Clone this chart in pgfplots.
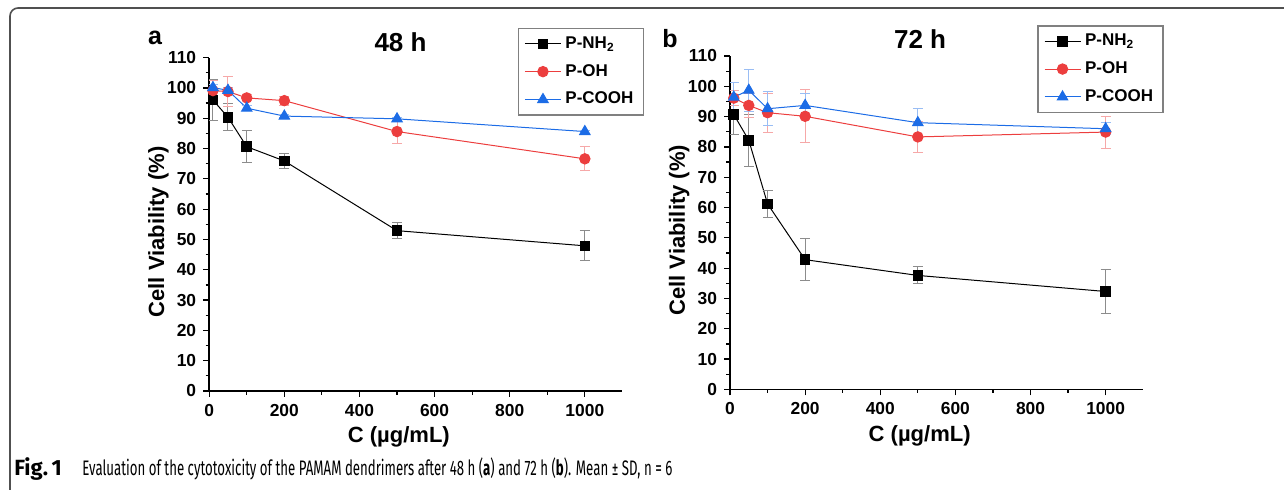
\documentclass[border=0pt]{standalone}
\usepackage{fontspec}
\setmainfont{Liberation Sans}
\newfontfamily\capfont[FakeStretch=0.63]{Fira Sans}
\newfontfamily\figfont{Fira Sans}
\usepackage{pgfplots}
\usepackage{pgfplotstable}
\pgfplotsset{compat=1.18}

\definecolor{cred}{RGB}{236,62,62}
\definecolor{cblue}{RGB}{28,108,230}
\definecolor{framegray}{RGB}{80,80,80}

% 48 h
\pgfplotstableread{
c v e
10 96.0 6.8
50 90.3 4.5
100 80.6 5.3
200 75.9 2.5
500 52.9 2.7
1000 47.9 4.9
}\nhA
\pgfplotstableread{
c v e
10 99.1 3.5
50 98.8 5.0
100 96.7 1.0
200 95.8 1.5
500 85.6 3.8
1000 76.6 4.0
}\ohA
\pgfplotstableread{
c v e
10 100.1 1.0
50 99.2 1.0
100 93.3 0.8
200 90.7 0.5
500 89.8 0.5
1000 85.6 0.5
}\coA
% 72 h
\pgfplotstableread{
c v e
10 90.7 6.5
50 82.2 8.5
100 61.2 4.4
200 42.8 7.0
500 37.6 2.8
1000 32.3 7.3
}\nhB
\pgfplotstableread{
c v e
10 96.1 2.5
50 93.7 4.0
100 91.3 6.4
200 90.1 8.8
500 83.3 5.2
1000 84.9 5.3
}\ohB
\pgfplotstableread{
c v e
10 96.4 4.8
50 98.7 7.0
100 92.6 5.6
200 93.7 4.0
500 88.0 4.6
1000 86.0 2.0
}\coB

\pgfplotsset{
  viab/.style={
    scale only axis, width=206.6pt, height=166.7pt,
    xmin=0, xmax=1100, ymin=0, ymax=110,
    axis x line*=bottom, axis y line*=left,
    axis line style={line width=0.75pt, -},
    xtick={0,200,...,1000}, ytick={0,10,...,110},
    minor x tick num=1, minor y tick num=1,
    tick align=outside, major tick length=3pt, minor tick length=1.8pt,
    every tick/.style={black, line width=0.6pt},
    ticklabel style={font=\bfseries\fontsize{8.7}{10}\selectfont},
    /pgf/number format/assume math mode=true,
    /pgf/number format/1000 sep={},
    xlabel={C (µg/mL)}, ylabel={Cell Viability (\%)},
    label style={font=\bfseries\fontsize{11}{13}\selectfont},
    xlabel style={at={(axis description cs:0.459,-0.138)}, anchor=center},
    ylabel style={at={(axis description cs:-0.123,0.477)}, anchor=center},
    title style={anchor=center, font=\bfseries\fontsize{13}{15}\selectfont},
    legend style={anchor=north west, draw=gray, line width=0.6pt,
      font=\bfseries\fontsize{8.5}{10}\selectfont,
      inner xsep=3pt, inner ysep=2pt, row sep=2.5pt},
    legend cell align=left,
    legend image code/.code={\draw[mark repeat=2,mark phase=2,#1] plot coordinates {(0pt,0pt)(9pt,0pt)(18pt,0pt)};},
  },
  nh/.style={black, line width=0.5pt, mark=square*, mark size=2.4pt,
    error bars/.cd, y dir=both, y explicit,
    error bar style={black!45, line width=0.5pt},
    error mark options={rotate=90, black!45, mark size=2.5pt, line width=0.5pt}},
  oh/.style={cred, line width=0.5pt, mark=*, mark size=2.6pt, mark options={fill=cred},
    error bars/.cd, y dir=both, y explicit,
    error bar style={cred!45, line width=0.5pt},
    error mark options={rotate=90, cred!45, mark size=2.5pt, line width=0.5pt}},
  co/.style={cblue, line width=0.5pt, mark=triangle*, mark size=3pt, mark options={fill=cblue},
    error bars/.cd, y dir=both, y explicit,
    error bar style={cblue!45, line width=0.5pt},
    error mark options={rotate=90, cblue!45, mark size=2.5pt, line width=0.5pt}},
}

\begin{document}
\begin{tikzpicture}
\useasboundingbox (0pt,0pt) rectangle (642pt,-245pt);
\draw[framegray, line width=0.8pt, rounded corners=4pt] (642pt,-4pt) -- (5pt,-4pt) -- (5pt,-245pt);

\begin{axis}[viab, at={(104.6pt,-195.5pt)}, anchor=origin,
  title={48 h}, title style={at={(axis description cs:0.463,1.009)}},
  legend style={at={(axis description cs:0.747,1.089)}}]
\addplot[nh] table[x=c, y=v, y error=e] {\nhA};
\addplot[oh] table[x=c, y=v, y error=e] {\ohA};
\addplot[co] table[x=c, y=v, y error=e] {\coA};
\legend{P-NH\textsubscript{2}, P-OH, P-COOH}
\end{axis}

\begin{axis}[viab, at={(365pt,-194.7pt)}, anchor=origin,
  title={72 h}, title style={at={(axis description cs:0.46,1.015)}},
  legend style={at={(axis description cs:0.744,1.092)}}]
\addplot[nh] table[x=c, y=v, y error=e] {\nhB};
\addplot[oh] table[x=c, y=v, y error=e] {\ohB};
\addplot[co] table[x=c, y=v, y error=e] {\coB};
\legend{P-NH\textsubscript{2}, P-OH, P-COOH}
\end{axis}

\node[anchor=base, inner sep=0pt, font=\bfseries\fontsize{12.5}{14}\selectfont] at (77.5pt,-22.5pt) {a};
\node[anchor=base, inner sep=0pt, font=\bfseries\fontsize{12.5}{14}\selectfont] at (335pt,-23.8pt) {b};

\node[anchor=base west, inner sep=0pt] at (7pt,-238pt) {\figfont\bfseries\fontsize{11}{12}\selectfont Fig.\,1};
\node[anchor=base west, inner sep=0pt] at (41pt,-238pt) {\capfont\fontsize{10.5}{12}\selectfont Evaluation of the cytotoxicity of the PAMAM dendrimers after 48 h (\textbf{a}) and 72 h (\textbf{b}). Mean\,±\,SD, n\,=\,6};
\end{tikzpicture}
\end{document}
